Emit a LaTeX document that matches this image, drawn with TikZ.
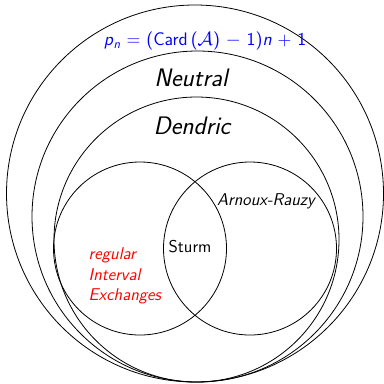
\documentclass[tikz,border=0pt]{standalone}
\usepackage{tikz}

\newcommand*{\venncol}{black}
\newcommand*{\sfit}[1]{\textit{#1}}

\begin{document}
\begin{tikzpicture}
[
	set/.style={draw=\venncol,line width=0.6pt},
	bigname/.style={font=\sffamily\itshape\fontsize{19}{21}\selectfont},
	smallname/.style={font=\sffamily\fontsize{12.8}{15.4}\selectfont},
	slanted/.style={font=\sffamily\itshape\fontsize{12.8}{15.4}\selectfont},
	x=0.75pt,
	y=-0.75pt
]

	\useasboundingbox (0,0) rectangle (384,383);

	% nested sets, all touching at the bottom
	\draw[set] (195,193.5) circle [radius=188.5];
	\draw[set] (197.5,216.5) circle [radius=165.5];
	\draw[set] (196.5,239.5) circle [radius=142.5];

	% the two families inside
	\draw[set] (140,248.5) circle [radius=86.5];
	\draw[set] (250,248.5) circle [radius=86.5];

	% labels
	\node[smallname,font=\sffamily\fontsize{13.6}{16}\selectfont,blue] (formula) at (205,41)
		{\sfit{p}\textsubscript{\sfit{n}} = (Card\,($\mathcal{A}$) $-$ 1)\sfit{n} + 1};
	\node[bigname] (neutral) at (191,78) {Neutral};
	\node[bigname] (dendric) at (192,126) {Dendric};
	\node[smallname] (sturm) at (190,247) {Sturm};
	\node[slanted] (ar) at (266,201) {Arnoux-Rauzy};
	\node[slanted,red,align=left,anchor=west] (rie) at (84,276)
		{regular\\Interval\\Exchanges};

\end{tikzpicture}
\end{document}
